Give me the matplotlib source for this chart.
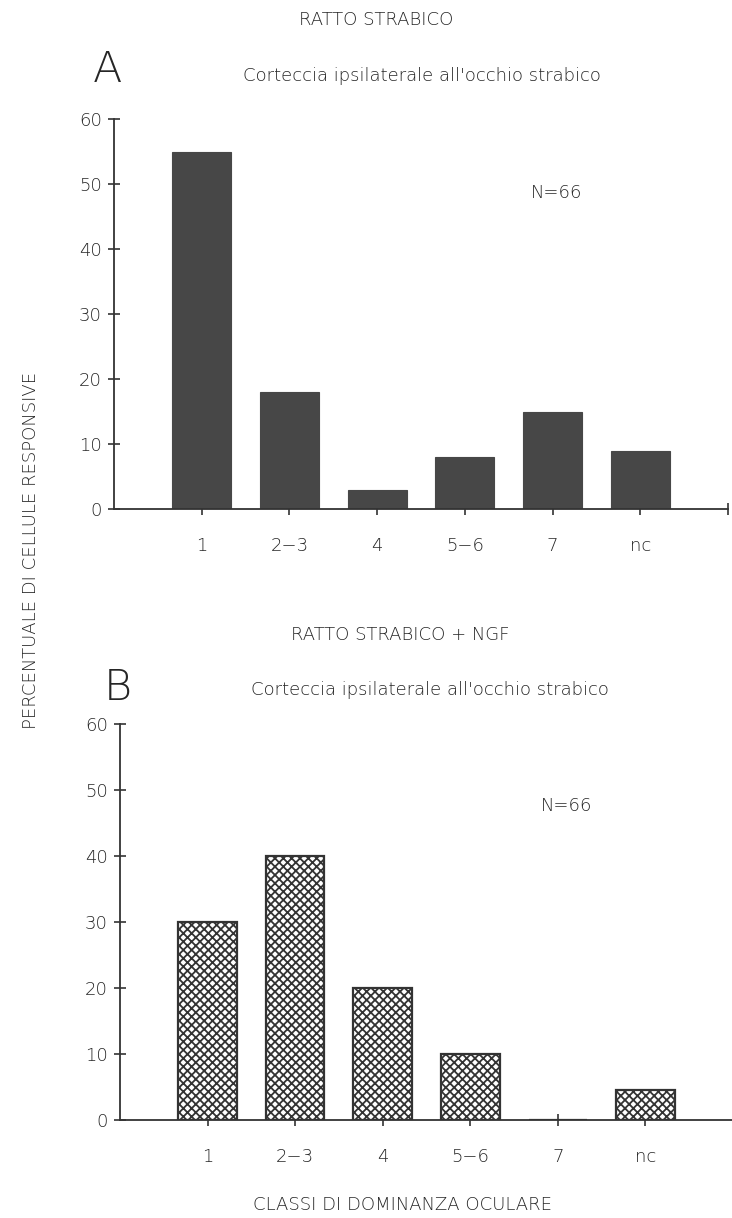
import matplotlib
matplotlib.use('Agg')
import matplotlib.pyplot as plt
import numpy as np

# ---- data ----
categories = ['1', '2\u22123', '4', '5\u22126', '7', 'nc']
values_a = [55, 18, 3, 8, 15, 9]
values_b = [30, 40, 20, 10, 0, 4.6]
y_ticks = [0, 10, 20, 30, 40, 50, 60]
n_label = 'N=66'
title_a = 'RATTO STRABICO'
title_b = 'RATTO STRABICO + NGF'
subtitle = "Corteccia ipsilaterale all'occhio strabico"
ylabel = 'PERCENTUALE DI CELLULE RESPONSIVE'
xlabel = 'CLASSI DI DOMINANZA OCULARE'

plt.rcParams['font.family'] = ['DejaVu Sans']
plt.rcParams['hatch.linewidth'] = 1.3
plt.rcParams['hatch.color'] = '#333333'

ink = '#262626'
FW = 'light'
FS = 13

fig = plt.figure(figsize=(7.32, 12.18), dpi=100)
W, H = 732, 1218


def make_axes(left_px, right_px, top_px, bottom_px):
    return fig.add_axes([left_px / W, 1 - bottom_px / H,
                         (right_px - left_px) / W, (bottom_px - top_px) / H])


def style(ax):
    x = np.arange(1, len(categories) + 1)
    ax.set_xlim(0, len(categories) + 1)
    ax.set_ylim(y_ticks[0], y_ticks[-1])
    for s in ['top', 'right']:
        ax.spines[s].set_visible(False)
    for s in ['left', 'bottom']:
        ax.spines[s].set_color('#333333')
        ax.spines[s].set_linewidth(1.3)
    ax.set_xticks(list(x) + [len(categories) + 1])
    ax.set_xticklabels(categories + [''])
    ax.set_yticks(y_ticks)
    ax.set_yticklabels([str(v) for v in y_ticks])
    ax.tick_params(axis='both', direction='inout', length=8.6, width=1.2,
                   color='#333333', labelcolor=ink, labelsize=FS)
    ax.tick_params(axis='x', pad=16)
    ax.tick_params(axis='y', pad=4.5)
    for lab in ax.get_xticklabels() + ax.get_yticklabels():
        lab.set_fontweight(FW)
    ax.patch.set_alpha(0)
    return x


# ---- panel A ----
axA = make_axes(114, 728, 119, 509)
xA = style(axA)
axA.bar(xA, values_a, width=0.67, color='#474747', edgecolor='#474747',
        linewidth=0.8, zorder=2)
axA.text(5.05, 48.6, n_label, ha='center', va='center', fontsize=FS,
         color=ink, fontweight=FW)

# ---- panel B ----
axB = make_axes(120, 733, 724, 1120)
xB = style(axB)
axB.bar(xB, values_b, width=0.67, color='white', edgecolor='#333333',
        linewidth=1.6, hatch='xxxx', zorder=2)
axB.text(5.1, 47.6, n_label, ha='center', va='center', fontsize=FS,
         color=ink, fontweight=FW)

# ---- titles and labels ----
fig.text(376 / W, 1 - 20 / H, title_a, ha='center', va='center',
         fontsize=FS, color=ink, fontweight=FW)
fig.text(107 / W, 1 - 70 / H, 'A', ha='center', va='center',
         fontsize=31, color=ink, fontweight=FW)
fig.text(422 / W, 1 - 76 / H, subtitle, ha='center', va='center',
         fontsize=FS, color=ink, fontweight=FW)

fig.text(400 / W, 1 - 635 / H, title_b, ha='center', va='center',
         fontsize=FS, color=ink, fontweight=FW)
fig.text(118 / W, 1 - 688 / H, 'B', ha='center', va='center',
         fontsize=31, color=ink, fontweight=FW)
fig.text(430 / W, 1 - 690 / H, subtitle, ha='center', va='center',
         fontsize=FS, color=ink, fontweight=FW)

fig.text(31 / W, 1 - 550 / H, ylabel, ha='center', va='center',
         rotation=90, fontsize=FS, color=ink, fontweight=FW)
fig.text(402 / W, 1 - 1205 / H, xlabel, ha='center', va='center',
         fontsize=FS, color=ink, fontweight=FW)

fig.savefig('out.png', dpi=100, facecolor='white')
